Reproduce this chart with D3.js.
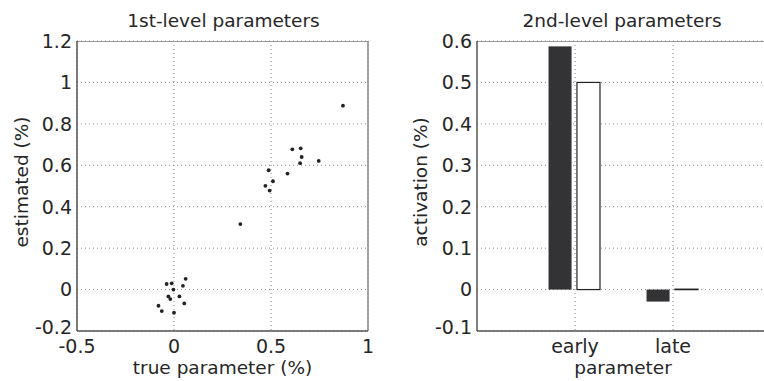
<!DOCTYPE html>
<html>
<head>
<meta charset="utf-8">
<script src="https://cdn.jsdelivr.net/npm/d3@7"></script>
<style>
  body { margin: 0; background: #fff; }
  text { font-family: "DejaVu Sans", sans-serif; fill: #262626; }
</style>
</head>
<body>
<svg id="chart" width="764" height="381"></svg>
<script>
// 1st-level scatter: true vs estimated
var trueParam = [0.871, 0.610, 0.653, 0.658, 0.650, 0.746, 0.585, 0.488, 0.510, 0.471, 0.493, 0.342,
                 0.060, -0.038, -0.012, 0.046, -0.003, -0.029, -0.019, 0.028, 0.053, -0.080, -0.063, 0.000];
var estimated = [0.888, 0.677, 0.682, 0.640, 0.610, 0.621, 0.560, 0.576, 0.523, 0.501, 0.478, 0.316,
                 0.052, 0.027, 0.030, 0.018, 0.000, -0.033, -0.046, -0.033, -0.067, -0.078, -0.104, -0.112];
var scatterXTicks = [-0.5, 0, 0.5, 1];
var scatterYTicks = [-0.2, 0, 0.2, 0.4, 0.6, 0.8, 1, 1.2];

// 2nd-level bars: estimated (dark) vs true (white)
var categories = ["early", "late"];
var barEstimated = [0.587, -0.029];
var barTrue = [0.5, 0.001];
var barYTicks = [-0.1, 0, 0.1, 0.2, 0.3, 0.4, 0.5, 0.6];

var svg = d3.select("#chart");

function fmt(v) {
  return String(+v.toFixed(2));
}

function drawFrame(g, w, h, xTicks, yTicks, xs, ys, clipRight) {
  // dotted grid
  g.selectAll(".gy").data(yTicks).join("line")
    .attr("x1", 0).attr("x2", w)
    .attr("y1", d => ys(d)).attr("y2", d => ys(d))
    .attr("stroke", "#888").attr("stroke-width", 1).attr("stroke-dasharray", "1,3");
  g.selectAll(".gx").data(xTicks).join("line")
    .attr("x1", d => xs(d)).attr("x2", d => xs(d))
    .attr("y1", 0).attr("y2", h)
    .attr("stroke", "#888").attr("stroke-width", 1).attr("stroke-dasharray", "1,3");
  // box
  g.append("line").attr("x1", 0).attr("x2", w).attr("y1", 0.5).attr("y2", 0.5)
    .attr("stroke", "#999").attr("stroke-width", 1);
  if (!clipRight) {
    g.append("line").attr("x1", w).attr("x2", w).attr("y1", 0).attr("y2", h)
      .attr("stroke", "#888").attr("stroke-width", 1.5);
  }
  g.append("line").attr("x1", 0).attr("x2", 0).attr("y1", 0).attr("y2", h)
    .attr("stroke", "#555").attr("stroke-width", 1.5);
  g.append("line").attr("x1", 0).attr("x2", w).attr("y1", h).attr("y2", h)
    .attr("stroke", "#555").attr("stroke-width", 1.5);
}

// y tick labels; the lowest one sits a little higher, as in the original
function yTickLabels(g, ticks, ys) {
  g.selectAll(".yt").data(ticks).join("text")
    .attr("x", -5).attr("y", (d, i) => ys(d) - (i === 0 ? 4 : 0)).attr("dy", "0.36em")
    .attr("text-anchor", "end").attr("font-size", 19)
    .text(fmt);
}

// ---- left panel ----
var L = {x: 77, y: 41, w: 291, h: 290};
var gL = svg.append("g").attr("transform", "translate(" + L.x + "," + L.y + ")");
var xL = d3.scaleLinear().domain([-0.5, 1]).range([0, L.w]);
var yL = d3.scaleLinear().domain([-0.2, 1.2]).range([L.h, 0]);
drawFrame(gL, L.w, L.h, scatterXTicks, scatterYTicks, xL, yL, false);

yTickLabels(gL, scatterYTicks, yL);
gL.selectAll(".xt").data(scatterXTicks).join("text")
  .attr("x", d => xL(d)).attr("y", L.h + 22)
  .attr("text-anchor", "middle").attr("font-size", 19)
  .text(fmt);

gL.selectAll(".pt").data(trueParam).join("circle")
  .attr("cx", d => xL(d))
  .attr("cy", (d, i) => yL(estimated[i]))
  .attr("r", 1.9)
  .attr("fill", "#222");

svg.append("text").attr("x", L.x + L.w / 2 + 1).attr("y", 27)
  .attr("text-anchor", "middle").attr("font-size", 18.5).text("1st-level parameters");
svg.append("text").attr("x", L.x + L.w / 2).attr("y", 374)
  .attr("text-anchor", "middle").attr("font-size", 18.5).text("true parameter (%)");
svg.append("text").attr("transform", "translate(28," + (L.y + L.h / 2 - 4) + ") rotate(-90)")
  .attr("text-anchor", "middle").attr("font-size", 18.5).text("estimated (%)");

// ---- right panel ----
var R = {x: 477, y: 41, w: 294, h: 290};
var gR = svg.append("g").attr("transform", "translate(" + R.x + "," + R.y + ")");
var xR = d3.scaleLinear().domain([0, 3]).range([0, R.w]);
var yR = d3.scaleLinear().domain([-0.1, 0.6]).range([R.h, 0]);
var catPos = categories.map((c, i) => i + 1);
drawFrame(gR, R.w, R.h, catPos, barYTicks, xR, yR, true);

var bw = 0.235;
gR.selectAll(".be").data(barEstimated).join("rect")
  .attr("x", (d, i) => xR(catPos[i] - 0.27))
  .attr("width", xR(bw) - xR(0))
  .attr("y", d => yR(Math.max(0, d)))
  .attr("height", d => Math.abs(yR(d) - yR(0)))
  .attr("fill", "#333336");
gR.selectAll(".bt").data(barTrue).join("rect")
  .attr("x", (d, i) => xR(catPos[i] + 0.02))
  .attr("width", xR(bw) - xR(0))
  .attr("y", d => yR(Math.max(0, d)))
  .attr("height", d => Math.max(0.5, Math.abs(yR(d) - yR(0))))
  .attr("fill", "#fff").attr("stroke", "#222").attr("stroke-width", 1.2);

yTickLabels(gR, barYTicks, yR);
gR.selectAll(".xt").data(categories).join("text")
  .attr("x", (d, i) => xR(catPos[i])).attr("y", R.h + 22)
  .attr("text-anchor", "middle").attr("font-size", 19)
  .text(d => d);

svg.append("text").attr("x", 622).attr("y", 27)
  .attr("text-anchor", "middle").attr("font-size", 18.5).text("2nd-level parameters");
svg.append("text").attr("x", 623).attr("y", 374)
  .attr("text-anchor", "middle").attr("font-size", 18.5).text("parameter");
svg.append("text").attr("transform", "translate(427," + (R.y + R.h / 2 - 4) + ") rotate(-90)")
  .attr("text-anchor", "middle").attr("font-size", 18.5).text("activation (%)");
</script>
</body>
</html>
